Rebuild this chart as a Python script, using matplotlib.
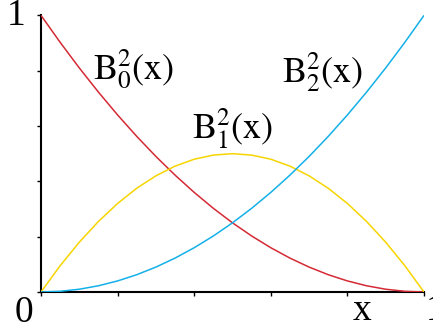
import matplotlib
matplotlib.use('Agg')
import matplotlib.pyplot as plt

# values, x in steps of 0.05
x = [0.0, 0.05, 0.1, 0.15, 0.2, 0.25, 0.3, 0.35, 0.4, 0.45, 0.5,
     0.55, 0.6, 0.65, 0.7, 0.75, 0.8, 0.85, 0.9, 0.95, 1.0]
b0 = [1.0, 0.9025, 0.81, 0.7225, 0.64, 0.5625, 0.49, 0.4225, 0.36, 0.3025, 0.25,
      0.2025, 0.16, 0.1225, 0.09, 0.0625, 0.04, 0.0225, 0.01, 0.0025, 0.0]
b1 = [0.0, 0.095, 0.18, 0.255, 0.32, 0.375, 0.42, 0.455, 0.48, 0.495, 0.5,
      0.495, 0.48, 0.455, 0.42, 0.375, 0.32, 0.255, 0.18, 0.095, 0.0]
b2 = [0.0, 0.0025, 0.01, 0.0225, 0.04, 0.0625, 0.09, 0.1225, 0.16, 0.2025, 0.25,
      0.3025, 0.36, 0.4225, 0.49, 0.5625, 0.64, 0.7225, 0.81, 0.9025, 1.0]

labels = [r'$\mathrm{B}_0^2(\mathrm{x})$', r'$\mathrm{B}_1^2(\mathrm{x})$', r'$\mathrm{B}_2^2(\mathrm{x})$']
colors = ['#d42a34', '#f6d500', '#14b0e8']

plt.rcParams['mathtext.fontset'] = 'stix'
plt.rcParams['font.family'] = ['Liberation Serif', 'DejaVu Serif']

fig = plt.figure(figsize=(4.33, 3.28), dpi=100)
ax = fig.add_axes([0.0947, 0.1098, 0.8845, 0.8433])

for ys, c in zip([b0, b1, b2], colors):
    ax.plot(x, ys, color=c, lw=1.1, solid_capstyle='butt')

ax.set_xlim(0, 1)
ax.set_ylim(0, 1)
for s in ['top', 'right']:
    ax.spines[s].set_visible(False)
for s in ['left', 'bottom']:
    ax.spines[s].set_linewidth(1.5)
    ax.spines[s].set_zorder(1)
ax.set_xticks([0, 0.2, 0.4, 0.6, 0.8, 1.0])
ax.set_yticks([0, 0.2, 0.4, 0.6, 0.8, 1.0])
ax.set_xticklabels([])
ax.set_yticklabels([])
ax.tick_params(direction='out', length=3, width=1)

# curve names
pos = [(0.136, 0.77), (0.394, 0.553), (0.629, 0.756)]
for (px, py), lab in zip(pos, labels):
    ax.text(px, py, lab, fontsize=26, ha='left', va='baseline')

# axis numbers
ax.text(-0.065, 1.0, '1', fontsize=27, ha='center', va='center', clip_on=False)
ax.text(-0.044, -0.108, '0', fontsize=27, ha='center', va='baseline', clip_on=False)
ax.text(0.838, -0.101, 'x', fontsize=27, ha='center', va='baseline', clip_on=False)
ax.text(1.03, -0.101, '1', fontsize=27, ha='center', va='baseline', clip_on=False)

fig.savefig('out.png', dpi=100)
